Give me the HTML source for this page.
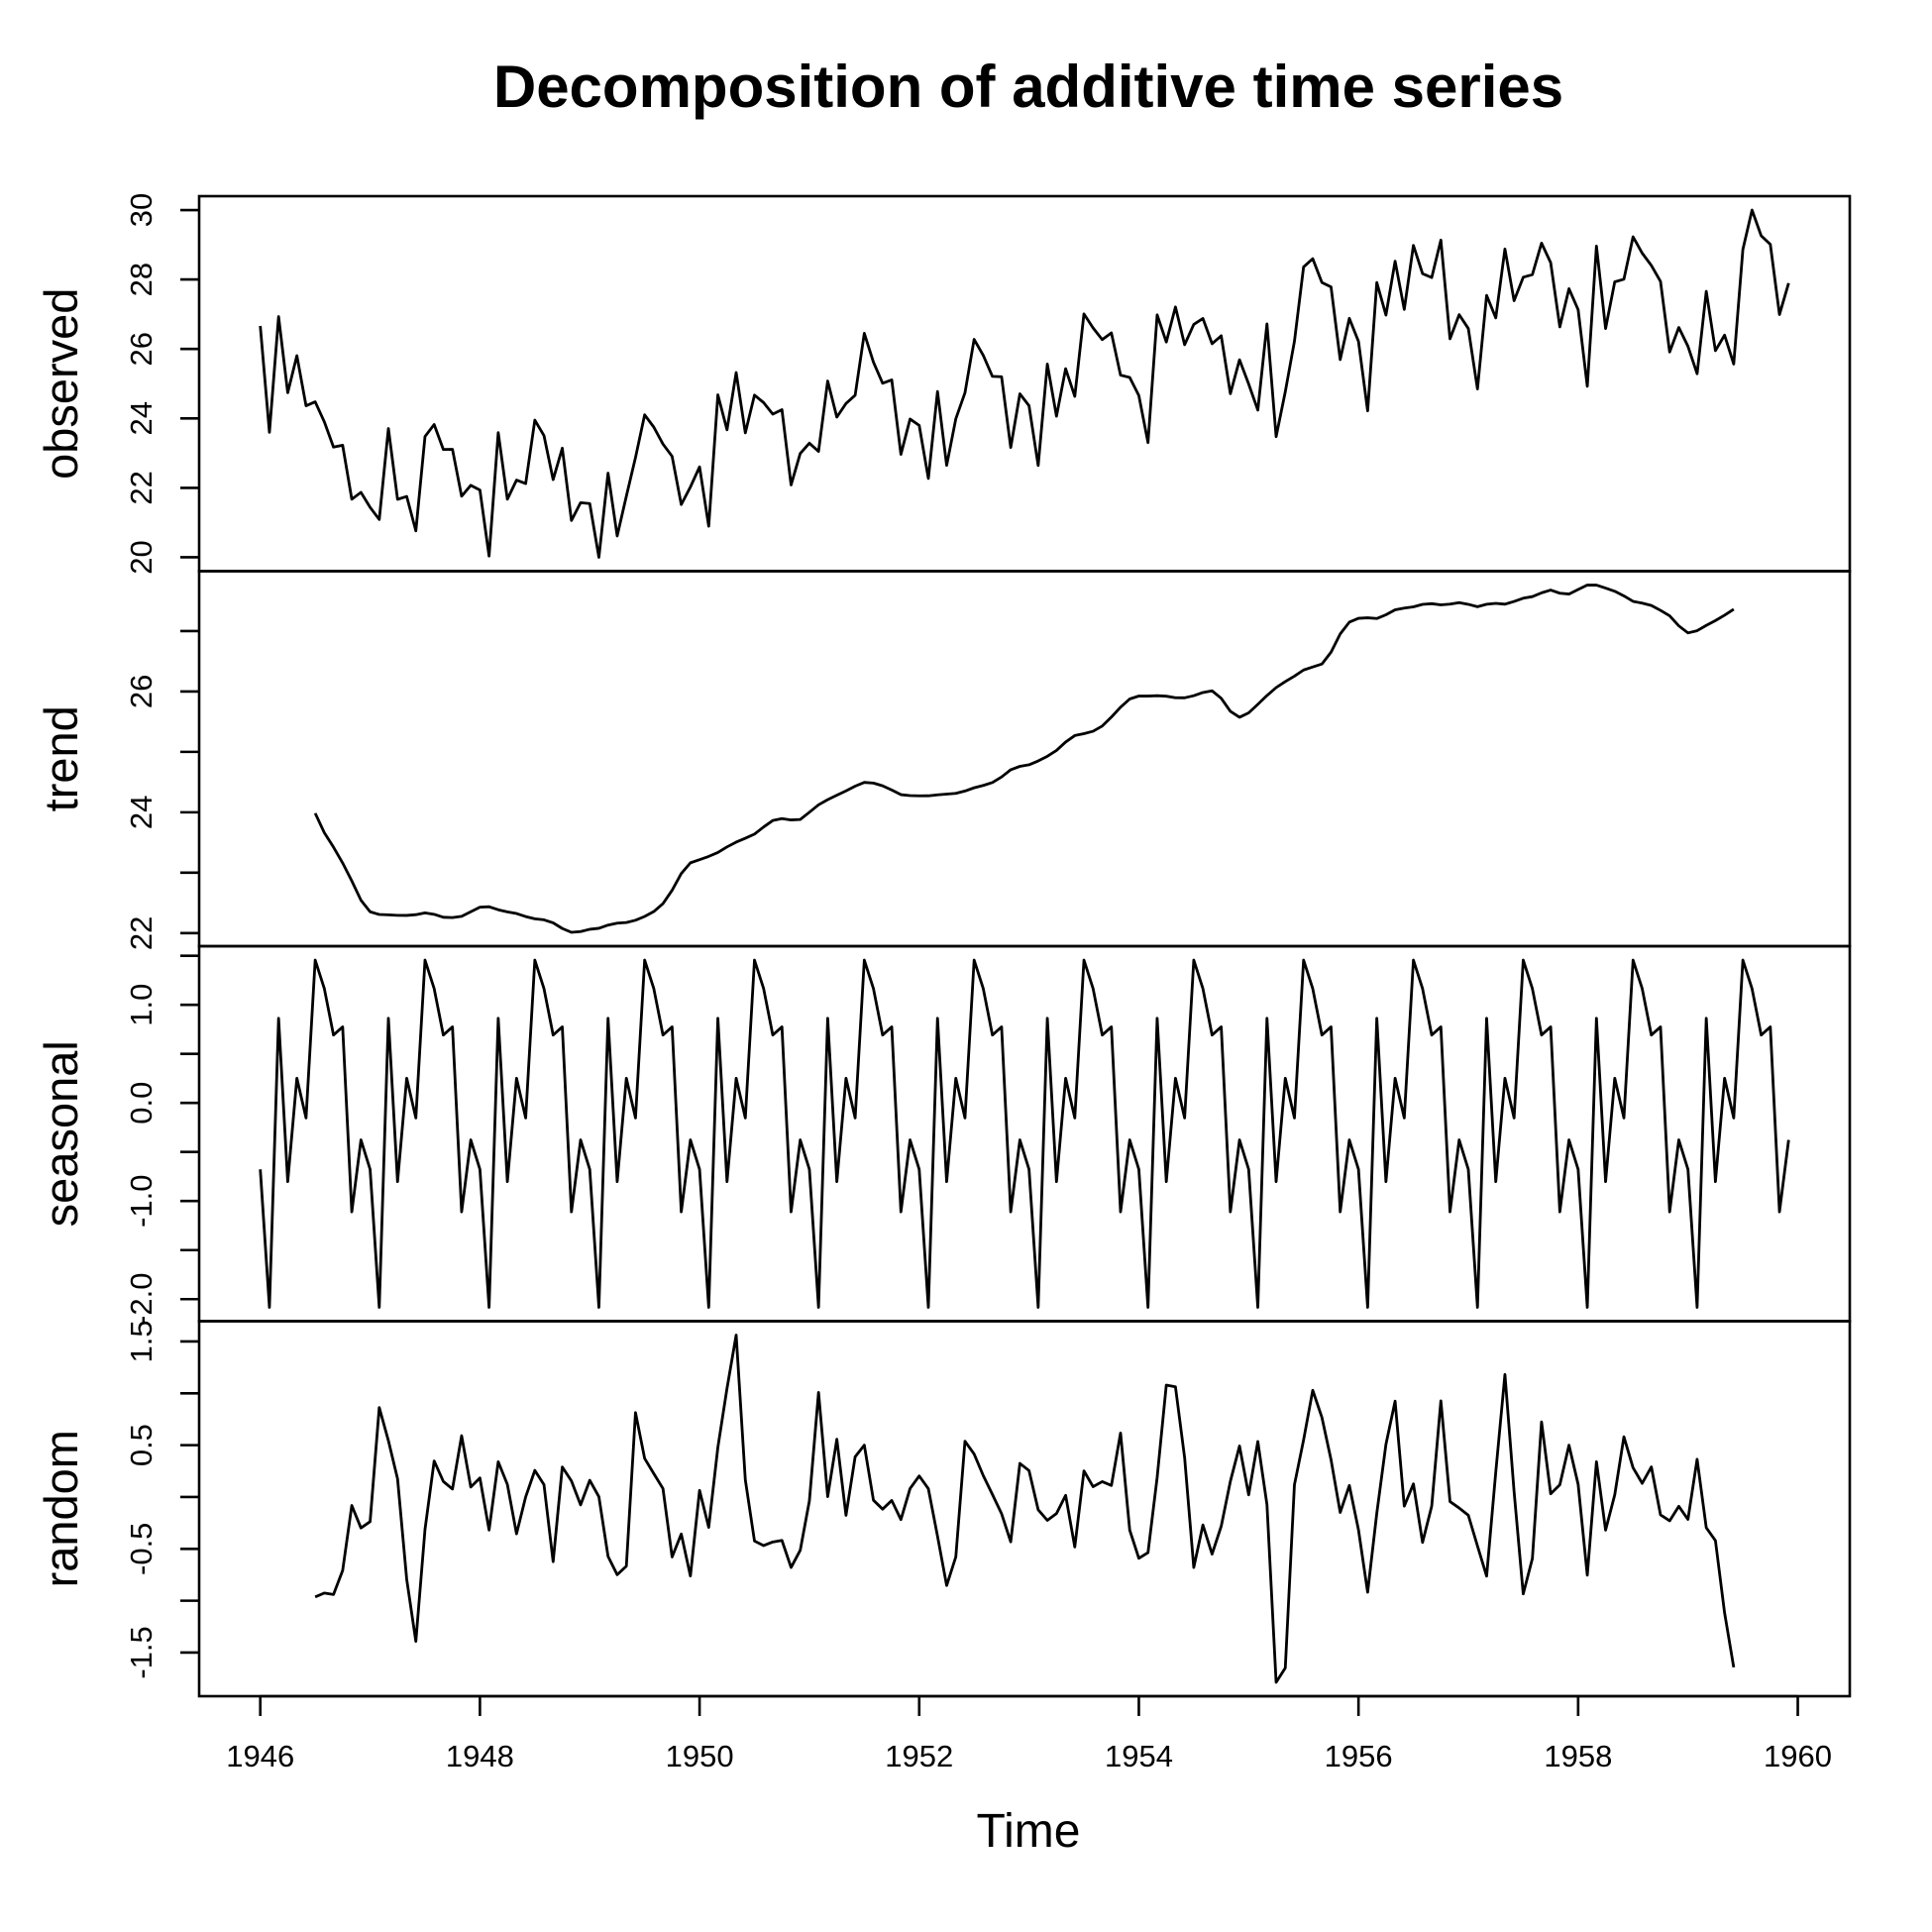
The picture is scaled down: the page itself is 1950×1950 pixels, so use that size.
<!DOCTYPE html>
<html><head><meta charset="utf-8"><style>
html,body{margin:0;padding:0;background:#fff}
svg{display:block;font-family:"Liberation Sans",Arial,sans-serif}
</style></head><body>
<svg id="chart" width="1950" height="1950" viewBox="0 0 1950 1950" xmlns="http://www.w3.org/2000/svg">
<text x="1038" y="108" font-size="60" font-weight="bold" text-anchor="middle">Decomposition of additive time series</text>
<text x="1038" y="1864" font-size="48" text-anchor="middle">Time</text>
<g id="plots"></g>
</svg>
<script>
const observed = [
26.663,23.598,26.931,24.740,25.806,24.364,24.477,23.901,23.175,23.227,21.672,21.870,
21.439,21.089,23.709,21.669,21.752,20.761,23.479,23.824,23.105,23.110,21.759,22.073,
21.937,20.035,23.590,21.672,22.222,22.123,23.950,23.504,22.238,23.142,21.059,21.573,
21.548,20.000,22.424,20.615,21.761,22.874,24.104,23.748,23.262,22.907,21.519,22.025,
22.604,20.894,24.677,23.673,25.320,23.583,24.671,24.454,24.122,24.252,22.084,22.991,
23.287,23.049,25.076,24.037,24.430,24.667,26.451,25.618,25.014,25.110,22.964,23.981,
23.798,22.270,24.775,22.646,23.988,24.737,26.276,25.816,25.210,25.199,23.162,24.707,
24.364,22.644,25.565,24.062,25.431,24.635,27.009,26.606,26.268,26.462,25.246,25.180,
24.657,23.304,26.982,26.199,27.210,26.122,26.706,26.878,26.152,26.379,24.712,25.688,
24.990,24.239,26.721,23.475,24.767,26.219,28.361,28.599,27.914,27.784,25.693,26.881,
26.217,24.218,27.914,26.975,28.527,27.139,28.982,28.169,28.056,29.136,26.291,26.987,
26.589,24.848,27.543,26.896,28.878,27.390,28.065,28.141,29.048,28.484,26.634,27.735,
27.132,24.924,28.963,26.589,27.931,28.009,29.229,28.759,28.405,27.945,25.912,26.619,
26.076,25.286,27.660,25.951,26.398,25.565,28.865,30.000,29.261,29.012,26.992,27.897];
const seasonalFigure = [-0.677,-2.083,0.863,-0.802,0.252,-0.153,1.456,1.165,0.692,0.775,-1.110,-0.377];
const startYear = 1946;
const xTicks = [1946,1948,1950,1952,1954,1956,1958,1960];
const obsTicks = [20,22,24,26,28,30];
const obsLabels = ["20","22","24","26","28","30"];
const trendTicks = [22,23,24,25,26,27];
const trendLabels = ["22","","24","","26",""];
const seasTicks = [-2,-1.5,-1,-0.5,0,0.5,1,1.5];
const seasLabels = ["-2.0","","-1.0","","0.0","","1.0",""];
const randTicks = [-1.5,-1,-0.5,0,0.5,1,1.5];
const randLabels = ["-1.5","","-0.5","","0.5","","1.5"];

const NS="http://www.w3.org/2000/svg";
const n = observed.length;
const trend = observed.map((v,i)=>{
  if(i<6||i>n-7) return null;
  let s=0.5*observed[i-6]+0.5*observed[i+6];
  for(let k=-5;k<=5;k++) s+=observed[i+k];
  return s/12;
});
const seasonal = observed.map((v,i)=>seasonalFigure[i%12]);
const random = observed.map((v,i)=>trend[i]==null?null:v-trend[i]-seasonal[i]);
const times = observed.map((v,i)=>startYear+i/12);

const L=201,R=1867,TOP=198,BOT=1712,PH=(BOT-TOP)/4;
const tMin=times[0],tMax=times[n-1],tPad=(tMax-tMin)*0.04;
const xScale=t=>L+(t-(tMin-tPad))/(tMax-tMin+2*tPad)*(R-L);
const panels=[
 {name:"observed",vals:observed,ticks:obsTicks,labels:obsLabels},
 {name:"trend",vals:trend,ticks:trendTicks,labels:trendLabels},
 {name:"seasonal",vals:seasonal,ticks:seasTicks,labels:seasLabels},
 {name:"random",vals:random,ticks:randTicks,labels:randLabels}];
const g=document.getElementById('plots');
function mk(tag,attrs){const e=document.createElementNS(NS,tag);for(const k in attrs)e.setAttribute(k,attrs[k]);g.appendChild(e);return e;}
panels.forEach((p,pi)=>{
  p.top=TOP+pi*PH; p.bot=p.top+PH;
  const vs=p.vals.filter(v=>v!=null);
  const mn=Math.min(...vs),mx=Math.max(...vs),pad=(mx-mn)*0.04;
  const y=v=>p.bot-(v-(mn-pad))/(mx-mn+2*pad)*(p.bot-p.top);
  let d="";
  p.vals.forEach((v,i)=>{if(v==null)return;d+=(d?"L":"M")+xScale(times[i]).toFixed(2)+","+y(v).toFixed(2);});
  const line=mk('path',{d:d,fill:"none",stroke:"#000","stroke-width":2.8,"stroke-linejoin":"round"});
  
  
  const box=mk('rect',{x:L,y:p.top,width:R-L,height:p.bot-p.top,fill:"none",stroke:"#000","stroke-width":2.6});
  
  
  p.ticks.forEach((t,ti)=>{
    const yy=y(t);
    const tk=mk('line',{x1:L-19,x2:L,y1:yy,y2:yy,stroke:"#000","stroke-width":2.6});
    
    
    if(p.labels[ti]){
      const tx=mk('text',{x:0,y:0,"font-size":31,"text-anchor":"middle",transform:`translate(153,${yy}) rotate(-90)`});
      tx.textContent=p.labels[ti];
      
      
    }
  });
  const lab=mk('text',{x:0,y:0,"font-size":47,"text-anchor":"middle",transform:`translate(78,${(p.top+p.bot)/2}) rotate(-90)`});
  lab.textContent=p.name;
  
  
});
const ax=mk('line',{x1:xScale(xTicks[0]),x2:xScale(xTicks[xTicks.length-1]),y1:BOT,y2:BOT,stroke:"#000","stroke-width":2.6});


xTicks.forEach(t=>{
  const xx=xScale(t);
  const tk=mk('line',{x1:xx,x2:xx,y1:BOT,y2:BOT+20,stroke:"#000","stroke-width":2.6});
  
  
  const tx=mk('text',{x:xx,y:1783,"font-size":31,"text-anchor":"middle"});
  tx.textContent=String(t);
  
  
});
</script>
</body></html>
